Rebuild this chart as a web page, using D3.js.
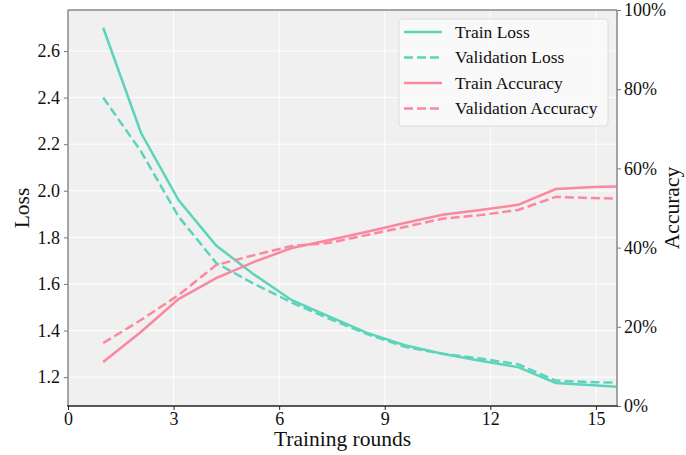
<!DOCTYPE html>
<html>
<head>
<meta charset="utf-8">
<script src="https://cdn.jsdelivr.net/npm/d3@7"></script>
<style>
  body { margin: 0; background: #fff; }
  svg text { font-family: "Liberation Serif", "Times New Roman", serif; fill: #111; }
</style>
</head>
<body>
<div id="chartArea"></div>
<script>
// training rounds (x positions of each recorded point)
var rounds = [1, 2.07, 3.14, 4.21, 5.29, 6.36, 7.43, 8.5, 9.57, 10.64, 11.71, 12.79, 13.86, 14.93, 16];

// loss series
var trainLoss = [2.70, 2.25, 1.96, 1.765, 1.64, 1.53, 1.46, 1.39, 1.337, 1.30, 1.27, 1.243, 1.175, 1.165, 1.155];
var valLoss   = [2.40, 2.17, 1.89, 1.69, 1.60, 1.52, 1.45, 1.385, 1.33, 1.30, 1.28, 1.255, 1.185, 1.178, 1.175];

// accuracy series (%)
var trainAcc = [11.1, 18.7, 27.0, 32.3, 36.4, 39.9, 41.9, 44.0, 46.2, 48.3, 49.5, 50.8, 54.8, 55.3, 55.5];
var valAcc   = [15.9, 21.7, 28.0, 35.6, 38.1, 40.4, 41.2, 43.2, 45.2, 47.3, 48.2, 49.5, 52.8, 52.5, 52.3];

var xTicks = [0, 3, 6, 9, 12, 15];
var lossTicks = [1.2, 1.4, 1.6, 1.8, 2.0, 2.2, 2.4, 2.6];
var accTicks = [0, 20, 40, 60, 80, 100];

var seriesNames = ["Train Loss", "Validation Loss", "Train Accuracy", "Validation Accuracy"];

var width = 686, height = 455;
var margin = {top: 10, right: 69, bottom: 49, left: 68};
var teal = "#5cd4bb", pink = "#fb889e";

var svg = d3.select("#chartArea").append("svg")
    .attr("width", width)
    .attr("height", height);

var x = d3.scaleLinear().domain([0, 15.6]).range([margin.left, width - margin.right]);
var yLoss = d3.scaleLinear().domain([1.076, 2.776]).range([height - margin.bottom, margin.top]);
var yAcc = d3.scaleLinear().domain([0, 100]).range([height - margin.bottom, margin.top]);

var plotW = width - margin.left - margin.right;
var plotH = height - margin.top - margin.bottom;

// background
svg.append("rect")
    .attr("x", margin.left).attr("y", margin.top)
    .attr("width", plotW).attr("height", plotH)
    .attr("fill", "#f0f0f0");

// grid
var grid = svg.append("g");
grid.selectAll(".vg").data(xTicks).enter().append("line")
    .attr("x1", function(d) { return x(d); }).attr("x2", function(d) { return x(d); })
    .attr("y1", margin.top).attr("y2", height - margin.bottom)
    .attr("stroke", "#fff").attr("stroke-width", 1);
grid.selectAll(".hg").data(lossTicks).enter().append("line")
    .attr("x1", margin.left).attr("x2", width - margin.right)
    .attr("y1", function(d) { return yLoss(d); }).attr("y2", function(d) { return yLoss(d); })
    .attr("stroke", "#fff").attr("stroke-width", 1);

// clip for lines
svg.append("clipPath").attr("id", "plotClip")
  .append("rect")
    .attr("x", margin.left).attr("y", margin.top)
    .attr("width", plotW).attr("height", plotH);

var lines = svg.append("g").attr("clip-path", "url(#plotClip)");

function drawLine(values, yScale, colour, dashed) {
    var line = d3.line()
        .x(function(d, i) { return x(rounds[i]); })
        .y(function(d) { return yScale(d); });
    lines.append("path")
        .datum(values)
        .attr("d", line)
        .attr("fill", "none")
        .attr("stroke", colour)
        .attr("stroke-width", 2.5)
        .attr("stroke-dasharray", dashed ? "9,4" : null);
}

drawLine(trainLoss, yLoss, teal, false);
drawLine(valLoss, yLoss, teal, true);
drawLine(trainAcc, yAcc, pink, false);
drawLine(valAcc, yAcc, pink, true);

// axes
var xAxis = svg.append("g")
    .attr("transform", "translate(0," + (height - margin.bottom) + ")")
    .call(d3.axisBottom(x).tickValues(xTicks).tickSize(4).tickPadding(2).tickFormat(d3.format("d")));
var yAxisL = svg.append("g")
    .attr("transform", "translate(" + margin.left + ",0)")
    .call(d3.axisLeft(yLoss).tickValues(lossTicks).tickSize(4).tickPadding(4).tickFormat(d3.format(".1f")));
var yAxisR = svg.append("g")
    .attr("transform", "translate(" + (width - margin.right) + ",0)")
    .call(d3.axisRight(yAcc).tickValues(accTicks).tickSize(4).tickPadding(3).tickFormat(function(d) { return d + "%"; }));

[xAxis, yAxisL, yAxisR].forEach(function(a) {
    a.selectAll("text").style("font-size", "18px").style("font-family", "Liberation Serif, serif").attr("fill", "#111");
    a.select(".domain").remove();
});
xAxis.selectAll(".tick line").attr("stroke", "#222");
yAxisL.selectAll(".tick line").attr("stroke", "#777");
yAxisR.selectAll(".tick line").attr("stroke", "#777");

// spines
var L = margin.left, R = width - margin.right, T = margin.top, B = height - margin.bottom;
svg.append("line").attr("x1", L).attr("x2", R).attr("y1", T).attr("y2", T).attr("stroke", "#888").attr("stroke-width", 1.5);
svg.append("line").attr("x1", L).attr("x2", L).attr("y1", T).attr("y2", B).attr("stroke", "#888").attr("stroke-width", 1.5);
svg.append("line").attr("x1", R).attr("x2", R).attr("y1", T).attr("y2", B).attr("stroke", "#888").attr("stroke-width", 1.5);
svg.append("line").attr("x1", L - 0.75).attr("x2", R + 0.75).attr("y1", B).attr("y2", B).attr("stroke", "#222").attr("stroke-width", 1.5);

// axis labels
svg.append("text")
    .attr("x", (L + R) / 2).attr("y", 446)
    .attr("text-anchor", "middle")
    .style("font-size", "21.5px")
    .text("Training rounds");
svg.append("text")
    .attr("transform", "translate(29," + ((T + B) / 2) + ") rotate(-90)")
    .attr("text-anchor", "middle")
    .style("font-size", "21.5px")
    .text("Loss");
svg.append("text")
    .attr("transform", "translate(679," + ((T + B) / 2) + ") rotate(-90)")
    .attr("text-anchor", "middle")
    .style("font-size", "21.5px")
    .text("Accuracy");

// legend
var legend = svg.append("g").attr("transform", "translate(399,19)");
legend.append("rect")
    .attr("width", 209).attr("height", 107)
    .attr("rx", 3)
    .attr("fill", "#fafafa").attr("fill-opacity", 0.9)
    .attr("stroke", "#dcdcdc");
var legendStyles = [
    {colour: teal, dashed: false},
    {colour: teal, dashed: true},
    {colour: pink, dashed: false},
    {colour: pink, dashed: true}
];
seriesNames.forEach(function(name, i) {
    var yy = 13 + i * 25.5;
    legend.append("line")
        .attr("x1", 5).attr("x2", 43)
        .attr("y1", yy).attr("y2", yy)
        .attr("stroke", legendStyles[i].colour)
        .attr("stroke-width", 2.5)
        .attr("stroke-dasharray", legendStyles[i].dashed ? "9,4" : null);
    legend.append("text")
        .attr("x", 56).attr("y", yy + 5.5)
        .style("font-size", "17.5px")
        .text(name);
});
</script>
</body>
</html>
